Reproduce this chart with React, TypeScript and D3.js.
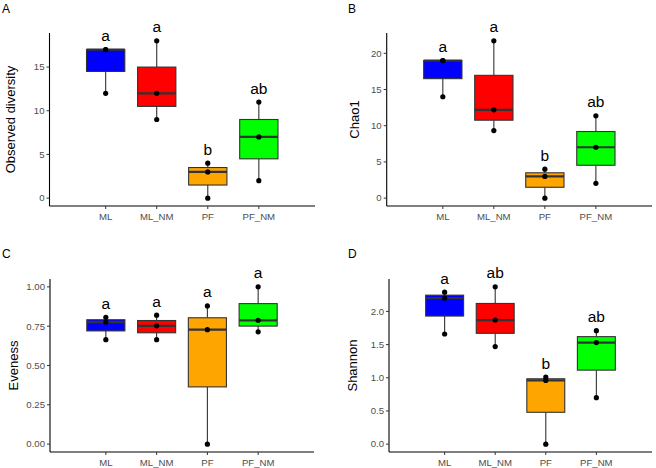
import * as d3 from 'd3';

const groups = ['ML', 'ML_NM', 'PF', 'PF_NM'];
const fills = ['#0000FF', '#FF0000', '#FFA500', '#00FF00'];

// three samples per group
const observed = [[12, 17, 17], [9, 12, 18], [0, 3, 4], [2, 7, 11]];
const chao1 = [[14, 19, 19], [9.33, 12.2, 21.72], [0, 3, 4], [2.05, 7.03, 11.37]];
const evenness = [[0.664, 0.776, 0.806], [0.664, 0.752, 0.82], [0, 0.728, 0.879], [0.714, 0.787, 1.0]];
const shannon = [[1.66, 2.2, 2.29], [1.47, 1.87, 2.37], [0, 0.96, 1.01], [0.7, 1.53, 1.71]];

const lettersA = ['a', 'a', 'b', 'ab'];
const lettersB = ['a', 'a', 'b', 'ab'];
const lettersC = ['a', 'a', 'a', 'a'];
const lettersD = ['a', 'ab', 'b', 'ab'];

const ticksA = [0, 5, 10, 15];
const ticksB = [0, 5, 10, 15, 20];
const ticksC = [0, 0.25, 0.5, 0.75, 1.0];
const ticksD = [0, 0.5, 1.0, 1.5, 2.0];

const FONT = '"Liberation Sans", Arial, Helvetica, sans-serif';

interface PanelProps {
  tag: string;
  tagX: number;
  tagY: number;
  title: string;
  titleX: number;
  values: number[][];
  letters: string[];
  ticks: number[];
  fmt: (v: number) => string;
  left: number;
  right: number;
  top: number;
  bottom: number;
}

function Panel(p: PanelProps) {
  const all = p.values.flat();
  const lo = d3.min(all) as number;
  const hi = d3.max(all) as number;
  const pad = (hi - lo) * 0.05;
  const y = d3.scaleLinear().domain([lo - pad, hi + pad]).range([p.bottom, p.top]);
  const x = d3.scaleBand().domain(groups).range([p.left, p.right]).paddingOuter(0.6).paddingInner(0);
  const step = x.step();
  const bw = step * 0.75;
  const midY = (p.top + p.bottom) / 2;

  return (
    <g>
      <text x={p.tagX} y={p.tagY} fontSize={12} fontFamily={FONT} fill="#000">{p.tag}</text>
      <text
        transform={`translate(${p.titleX},${midY}) rotate(-90)`}
        textAnchor="middle"
        fontSize={13}
        fontFamily={FONT}
        fill="#000"
      >
        {p.title}
      </text>

      {groups.map((g, i) => {
        const v = p.values[i].slice().sort((a, b) => a - b);
        const q1 = d3.quantile(v, 0.25) as number;
        const med = d3.quantile(v, 0.5) as number;
        const q3 = d3.quantile(v, 0.75) as number;
        const mn = v[0];
        const mx = v[v.length - 1];
        const cx = (x(g) as number) + step / 2;
        return (
          <g key={g}>
            <line x1={cx} x2={cx} y1={y(q3)} y2={y(mx)} stroke="#333" strokeWidth={1.1} />
            <line x1={cx} x2={cx} y1={y(q1)} y2={y(mn)} stroke="#333" strokeWidth={1.1} />
            <rect
              x={cx - bw / 2}
              y={y(q3)}
              width={bw}
              height={y(q1) - y(q3)}
              fill={fills[i]}
              stroke="#333"
              strokeWidth={1.1}
            />
            <line x1={cx - bw / 2} x2={cx + bw / 2} y1={y(med)} y2={y(med)} stroke="#333" strokeWidth={2.2} />
            {v.map((d, k) => (
              <circle key={k} cx={cx} cy={y(d)} r={2.6} fill="#000" />
            ))}
            <text
              x={cx}
              y={y(mx) - 8.5}
              textAnchor="middle"
              fontSize={15.5}
              fontFamily={FONT}
              fill="#000"
            >
              {p.letters[i]}
            </text>
          </g>
        );
      })}

      <line x1={p.left} x2={p.left} y1={p.top} y2={p.bottom} stroke="#000" strokeWidth={1.1} />
      <line x1={p.left} x2={p.right} y1={p.bottom} y2={p.bottom} stroke="#000" strokeWidth={1.1} />

      {p.ticks.map((t) => (
        <g key={t}>
          <line x1={p.left - 3} x2={p.left} y1={y(t)} y2={y(t)} stroke="#333" strokeWidth={1} />
          <text
            x={p.left - 5}
            y={y(t)}
            dy="0.35em"
            textAnchor="end"
            fontSize={9.6}
            fontFamily={FONT}
            fill="#4D4D4D"
          >
            {p.fmt(t)}
          </text>
        </g>
      ))}

      {groups.map((g) => {
        const cx = (x(g) as number) + step / 2;
        return (
          <g key={g}>
            <line x1={cx} x2={cx} y1={p.bottom} y2={p.bottom + 3} stroke="#333" strokeWidth={1} />
            <text x={cx} y={p.bottom + 14} textAnchor="middle" fontSize={9.6} fontFamily={FONT} fill="#4D4D4D">
              {g}
            </text>
          </g>
        );
      })}
    </g>
  );
}

export default function App() {
  return (
    <svg
      width={656}
      height={468}
      style={{ position: 'absolute', left: 0, top: 0, background: '#fff' }}
    >
      <rect width={656} height={468} fill="#fff" />
      <Panel
        tag="A" tagX={2} tagY={13}
        title="Observed diversity" titleX={15}
        values={observed} letters={lettersA} ticks={ticksA} fmt={d3.format('d')}
        left={49.5} right={315} top={33} bottom={206}
      />
      <Panel
        tag="B" tagX={348} tagY={13}
        title="Chao1" titleX={359}
        values={chao1} letters={lettersB} ticks={ticksB} fmt={d3.format('d')}
        left={386.7} right={652} top={33} bottom={206}
      />
      <Panel
        tag="C" tagX={2} tagY={258}
        title="Eveness" titleX={18}
        values={evenness} letters={lettersC} ticks={ticksC} fmt={d3.format('.2f')}
        left={50} right={314} top={279} bottom={452}
      />
      <Panel
        tag="D" tagX={348} tagY={258}
        title="Shannon" titleX={357}
        values={shannon} letters={lettersD} ticks={ticksD} fmt={d3.format('.1f')}
        left={389} right={652} top={279} bottom={452}
      />
    </svg>
  );
}
